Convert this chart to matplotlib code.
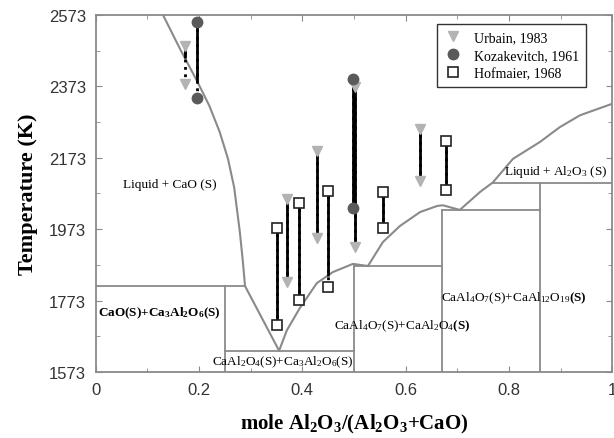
import numpy as np
import matplotlib
matplotlib.use("Agg")
import matplotlib.pyplot as plt
from matplotlib.lines import Line2D

plt.rcParams['font.family'] = ['Liberation Serif', 'DejaVu Serif']
plt.rcParams['mathtext.fontset'] = 'custom'
plt.rcParams['mathtext.rm'] = 'Liberation Serif'
plt.rcParams['mathtext.it'] = 'Liberation Serif:italic'
plt.rcParams['mathtext.bf'] = 'Liberation Serif:bold'

# liquidus curve (mole fraction Al2O3, K)
liq_x = [0.130, 0.163, 0.196, 0.220, 0.240, 0.256, 0.268, 0.279, 0.285, 0.289,
         0.355, 0.370, 0.395, 0.428, 0.459, 0.498, 0.527, 0.556, 0.589, 0.628,
         0.661, 0.672, 0.705, 0.744, 0.769, 0.808, 0.860, 0.899, 0.938, 1.000]
liq_T = [2573, 2478, 2388, 2318, 2245, 2170, 2090, 1965, 1880, 1814,
         1633, 1690, 1752, 1822, 1853, 1876, 1870, 1937, 1982, 2021,
         2038, 2040, 2027, 2077, 2104, 2170, 2217, 2259, 2292, 2324]

# solid phase boundaries: horizontal (x0, x1, T) and vertical (x, T_top)
h_lines = [(0.0, 0.289, 1814), (0.25, 0.5, 1632), (0.5, 0.67, 1870),
           (0.67, 0.86, 2027), (0.769, 1.0, 2102)]
v_lines = [(0.25, 1814), (0.5, 1870), (0.67, 2027), (0.86, 2102)]

# measured ranges: x, T_top, T_bottom
urbain_x = [0.172, 0.370, 0.428, 0.502, 0.628]
urbain_top = [2486, 2058, 2192, 2371, 2254]
urbain_bot = [2380, 1825, 1948, 1923, 2108]

koza_x = [0.196, 0.498]
koza_top = [2553, 2394]
koza_bot = [2341, 2032]

hof_x = [0.351, 0.393, 0.449, 0.556, 0.678]
hof_top = [1976, 2046, 2080, 2077, 2220]
hof_bot = [1705, 1775, 1811, 1976, 2083]

y_ticks = [1573, 1773, 1973, 2173, 2373, 2573]
x_ticks = [0, 0.2, 0.4, 0.6, 0.8, 1.0]
x_ticklabels = ['0', '0.2', '0.4', '0.6', '0.8', '1']

fig = plt.figure(figsize=(6.14, 4.39), dpi=100)
ax = fig.add_axes([0.156, 0.150, 0.841, 0.814])

grey = '#8a8a8a'
ax.plot(liq_x, liq_T, color=grey, lw=1.5, zorder=2)
for x0, x1, t in h_lines:
    ax.plot([x0, x1], [t, t], color=grey, lw=1.3, zorder=2)
for x, t in v_lines:
    ax.plot([x, x], [1573, t], color=grey, lw=1.3, zorder=2)


def draw_range(xs, tops, bots):
    # solid above the liquidus, dotted below it
    for x, t1, t0 in zip(xs, tops, bots):
        tl = np.interp(x, liq_x, liq_T)
        ax.plot([x, x], [t0, t1], color='black', lw=2, ls=':', zorder=3)
        hi = max(t0, tl)
        if t1 > hi:
            ax.plot([x, x], [hi, t1], color='black', lw=2, zorder=3,
                    solid_capstyle='butt')


draw_range(urbain_x, urbain_top, urbain_bot)
draw_range(koza_x, koza_top, koza_bot)
draw_range(hof_x, hof_top, hof_bot)

ax.plot(urbain_x + urbain_x, urbain_top + urbain_bot, 'v', color='#b3b3b3',
        ms=7.5, ls='none', zorder=4)
ax.plot(koza_x + koza_x, koza_top + koza_bot, 'o', color='#5a5a5a',
        ms=7.5, ls='none', zorder=4)
ax.plot(hof_x + hof_x, hof_top + hof_bot, 's', mfc='white', mec='#222222',
        mew=1.2, ms=7.5, ls='none', zorder=4)

ax.text(0.143, 2100, 'Liquid + CaO (S)', fontsize=9.5, ha='center', va='center')
ax.text(0.89, 2136, r'Liquid + Al$_2$O$_3$ (S)', fontsize=9.5,
        ha='center', va='center')
ax.text(0.124, 1741, r'CaO(S)+Ca$_\mathbf{3}$Al$_\mathbf{2}$O$_\mathbf{6}$(S)',
        fontsize=9.5, fontweight='bold', ha='center', va='center')
ax.text(0.362, 1604, r'CaAl$_2$O$_4$(S)+Ca$_3$Al$_2$O$_6$(S)', fontsize=9.5,
        ha='center', va='center')
ax.text(0.593, 1705, r'CaAl$_4$O$_7$(S)+CaAl$_2$O$_4$$\mathbf{(S)}$',
        fontsize=9.5, ha='center', va='center')
ax.text(0.81, 1783, r'CaAl$_4$O$_7$(S)+CaAl$_{12}$O$_{19}$$\mathbf{(S)}$',
        fontsize=9.5, ha='center', va='center')

handles = [
    Line2D([], [], marker='v', color='#b3b3b3', ls='none', ms=7.5),
    Line2D([], [], marker='o', color='#5a5a5a', ls='none', ms=7.5),
    Line2D([], [], marker='s', mfc='white', mec='#222222', mew=1.2,
           ls='none', ms=7.5),
]
leg = ax.legend(handles, ['Urbain, 1983', 'Kozakevitch, 1961', 'Hofmaier, 1968'],
                loc='upper right', bbox_to_anchor=(0.962, 0.993), fontsize=10,
                frameon=True, fancybox=False, edgecolor='black',
                handlelength=1.2, handletextpad=0.9, borderpad=0.5,
                labelspacing=0.35)
leg.get_frame().set_linewidth(1.0)

ax.set_xlim(0, 1)
ax.set_ylim(1573, 2573)
ax.set_xticks(x_ticks)
ax.set_xticklabels(x_ticklabels)
ax.set_xticks(np.arange(0.1, 1.0, 0.2), minor=True)
ax.set_yticks(y_ticks)
ax.set_yticks(np.arange(1673, 2573, 200), minor=True)
ax.tick_params(which='both', direction='in', top=True, right=True,
               color=grey, labelsize=12, labelcolor='#333333', pad=7)
ax.tick_params(which='major', length=4)
ax.tick_params(which='minor', length=3)
for lab in ax.get_xticklabels() + ax.get_yticklabels():
    lab.set_family('Liberation Sans')
for s in ax.spines.values():
    s.set_color(grey)
    s.set_linewidth(1.3)

ax.set_xlabel(r'mole Al$_\mathbf{2}$O$_\mathbf{3}$/(Al$_\mathbf{2}$O$_\mathbf{3}$+CaO)',
              fontsize=15, fontweight='bold', labelpad=11)
ax.set_ylabel('Temperature (K)', fontsize=16, fontweight='bold', labelpad=8)

fig.savefig('out.png', dpi=100)
